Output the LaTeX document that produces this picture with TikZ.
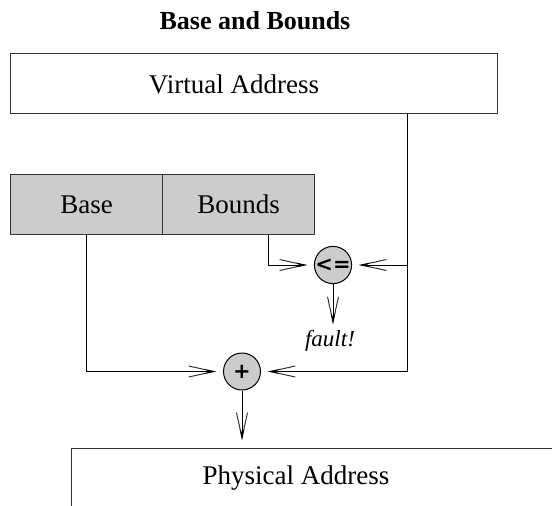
\documentclass[tikz,border=0pt]{standalone}
\usepackage{fontspec}
\setmainfont{Liberation Serif}
\newfontfamily\opfont{DejaVu Sans}
\usetikzlibrary{arrows.meta,calc}
\definecolor{linec}{HTML}{333333}
\definecolor{boxfill}{HTML}{CCCCCC}
\begin{document}
\begin{tikzpicture}[x=1pt,y=-1pt,
  boxline/.style={draw=linec, line width=1.4pt},
  txt/.style={font=\fontsize{27}{29}\selectfont, inner sep=0pt},
  opnode/.style={circle, draw=black, line width=1pt, fill=boxfill, minimum size=37pt, inner sep=0pt, font=\fontsize{21}{23}\selectfont\opfont\bfseries},
  arr/.style={draw=linec, line width=0.9pt,
    -{Straight Barb[length=25pt,width=11pt,line width=1pt]},
    shorten >=7pt,
    postaction={draw=black, -{Stealth[length=11pt,width=4.5pt]}}}]
\clip (0,0) rectangle (552,506);
\fill[white] (0,0) rectangle (552,506);
% title
\node[txt, font=\fontsize{26}{28}\selectfont\bfseries] (title) at (255,21) {Base and Bounds};
% virtual address
\node[boxline, rectangle, minimum width=487pt, minimum height=60.5pt, anchor=north west, inner sep=0pt] (va) at (10,52.5) {};
\node[txt] (vat) at (234,84) {Virtual Address};
% base / bounds
\node[boxline, fill=boxfill, minimum width=152pt, minimum height=60pt, anchor=north west, inner sep=0pt, txt] (base) at (10,174) {Base};
\node[boxline, fill=boxfill, minimum width=152pt, minimum height=60pt, anchor=north west, inner sep=0pt, txt] (bounds) at (162,174) {Bounds};
% operators
\node[opnode] (le) at (333,265) {<=};
\node[opnode] (plus) at (242,371.5) {+};
\node[inner sep=0pt, font=\fontsize{23}{25}\selectfont\itshape] (fault) at (330,341) {fault!};
% physical address
\node[boxline, rectangle, minimum width=560pt, minimum height=100pt, anchor=north west, inner sep=0pt] (pa) at (71,448) {};
\node[txt] (pat) at (296,478) {Physical Address};
% connectors
\coordinate (vtap) at ($(va.south east)+(-91,0)$);
\coordinate (btap) at ($(bounds.south)+(30,0)$);
\draw[arr] (vtap) |- (plus.east);
\draw[arr] (le.east -| vtap) -- (le.east);
\draw[arr] (btap) |- (le.west);
\draw[arr] (base.south) |- (plus.west);
\draw[arr, shorten >=0pt] (le.south) -- ($(le.south)+(0,40)$);
\draw[arr, shorten >=8pt] (plus.south) -- (pa.north -| plus);
\end{tikzpicture}
\end{document}
